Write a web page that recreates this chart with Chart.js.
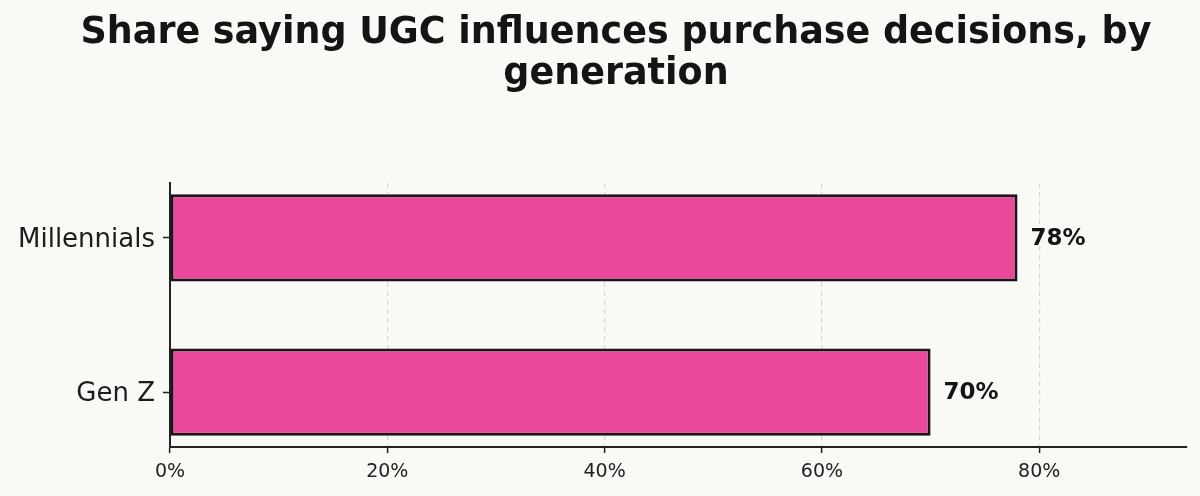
<!DOCTYPE html>
<html>
<head>
<meta charset="utf-8">
<script src="https://cdn.jsdelivr.net/npm/chart.js@4/dist/chart.umd.min.js"></script>
<style>
  html, body { margin: 0; padding: 0; background: #f9f9f6; }
  #wrap { width: 1200px; height: 496px; }
</style>
</head>
<body>
<div id="wrap"><canvas id="ugcChart" width="1200" height="496"></canvas></div>
<script>
const generations = ['Millennials', 'Gen Z'];
const shareValues = [78, 70];
const xTickValues = [0, 20, 40, 60, 80];
const titleLines = ['Share saying UGC influences purchase decisions, by', 'generation'];

const ctx = document.getElementById('ugcChart').getContext('2d');

// title drawn by hand so it can sit where the original has it
const titleText = {
    id: 'titleText',
    afterDraw(chart) {
        const c = chart.ctx;
        c.save();
        c.font = 'bold 36.5px "DejaVu Sans"';
        c.fillStyle = '#141414';
        c.textAlign = 'center';
        c.textBaseline = 'alphabetic';
        titleLines.forEach(function(line, i){
            c.fillText(line, 616, 43 + i * 41);
        });
        c.restore();
    }
};

// draw the "78%" style labels at the end of each bar
const valueLabels = {
    id: 'valueLabels',
    afterDatasetsDraw(chart) {
        const c = chart.ctx;
        const meta = chart.getDatasetMeta(0);
        c.save();
        c.font = 'bold 23px "DejaVu Sans"';
        c.fillStyle = '#151515';
        c.textAlign = 'left';
        c.textBaseline = 'middle';
        meta.data.forEach(function(bar, i){
            c.fillText(shareValues[i] + '%', bar.x + 13, bar.y + 1);
        });
        c.restore();
    }
};

const chart = new Chart(ctx, {
    type: 'bar',
    data: {
        datasets: [{
            data: shareValues.map(function(v, i){ return { x: v, y: i }; }),
            backgroundColor: '#ea4898',
            borderColor: '#1c1418',
            borderWidth: 3,
            borderSkipped: false,
            barPercentage: 0.565,
            categoryPercentage: 1
        }]
    },
    options: {
        indexAxis: 'y',
        responsive: false,
        animation: false,
        layout: { padding: { left: 10, right: 13, top: 183, bottom: 0 } },
        plugins: {
            legend: { display: false },
            tooltip: { enabled: false },
            title: { display: false }
        },
        scales: {
            x: {
                type: 'linear',
                min: 0,
                max: 93.6,
                afterBuildTicks: function(axis){
                    axis.ticks = xTickValues.map(function(v){ return { value: v }; });
                },
                afterFit: function(axis){ axis.height = 49; },
                ticks: {
                    color: '#222',
                    font: { family: 'DejaVu Sans', size: 19 },
                    padding: 8,
                    callback: function(v){ return v + '%'; }
                },
                grid: {
                    color: function(c){ return c.tick && c.tick.value === 0 ? 'rgba(0,0,0,0)' : '#d6d6d2'; },
                    lineWidth: 1.2,
                    tickColor: '#222',
                    tickLength: 6,
                    tickWidth: 1.5,
                    tickBorderDash: [],
                    drawTicks: true
                },
                border: { display: true, color: '#222', width: 2, dash: [5, 4] }
            },
            y: {
                type: 'linear',
                reverse: true,
                offset: false,
                min: -0.355,
                max: 1.355,
                afterBuildTicks: function(axis){
                    axis.ticks = generations.map(function(g, i){ return { value: i }; });
                },
                afterFit: function(axis){ axis.width = 160; },
                ticks: {
                    color: '#1c1c1c',
                    font: { family: 'DejaVu Sans', size: 26 },
                    padding: 8,
                    labelOffset: 2,
                    callback: function(v){ return generations[v]; }
                },
                grid: {
                    offset: false,
                    drawOnChartArea: false,
                    tickColor: '#222',
                    tickLength: 7,
                    tickWidth: 1.5
                },
                border: { display: true, color: '#222', width: 2 }
            }
        }
    },
    plugins: [valueLabels, titleText]
});
</script>
</body>
</html>
